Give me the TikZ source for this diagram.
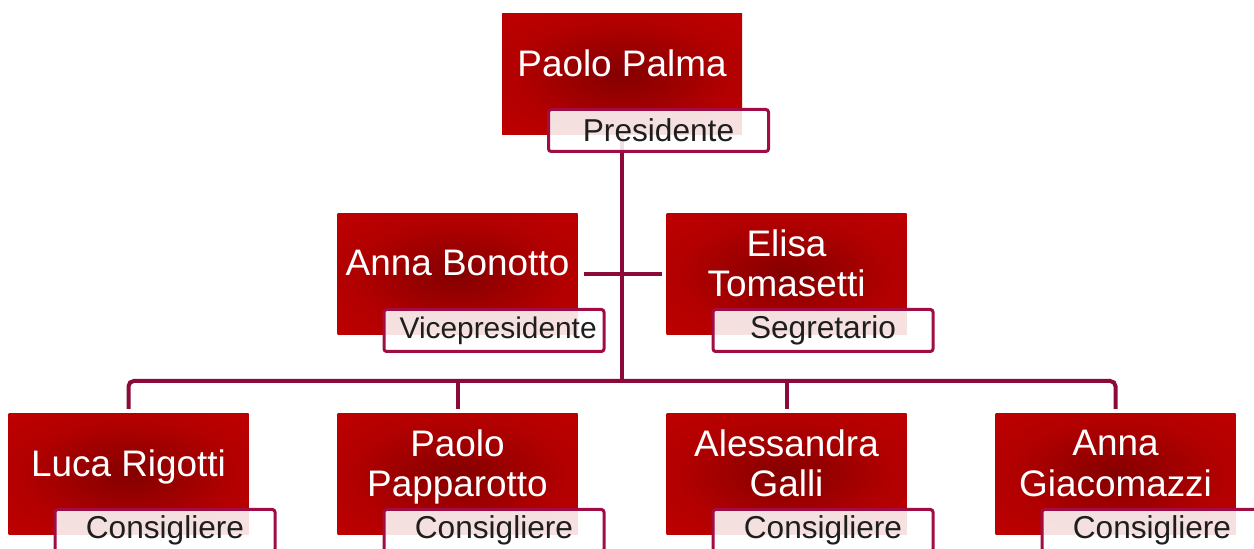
\documentclass[tikz,border=0pt]{standalone}
\usepackage{fontspec}
\setmainfont{Liberation Sans}
\usetikzlibrary{positioning, calc, backgrounds}
\definecolor{boxred}     {RGB}{204, 0, 0}
\definecolor{boxmid}     {RGB}{178, 0, 0}
\definecolor{boxdark}    {RGB}{132, 0, 0}
\definecolor{linecrimson}{RGB}{139, 10, 58}
\definecolor{rolecrimson}{RGB}{160, 12, 68}
\definecolor{roletext}   {RGB}{30, 30, 30}
\pgfdeclareradialshading{memberglow}{\pgfpoint{0bp}{0bp}}{%
  color(0bp)=(boxdark); color(22bp)=(boxmid); color(50bp)=(boxred); color(72bp)=(boxred)}
\tikzset{
  % Member box
  member/.style={
    rectangle, minimum width=4.8cm, minimum height=2.42cm,
    inner sep=0pt, outer sep=0pt, shading=memberglow,
    text=white, align=center, text depth=0.45cm,
    font=\fontsize{21pt}{23pt}\selectfont
  },
  % Role tag
  role/.style={
    rectangle, rounded corners=1.5pt,
    minimum width=4.4cm, minimum height=0.84cm, inner sep=0pt,
    draw=rolecrimson, line width=0.06cm,
    fill=white, fill opacity=0.88, text opacity=1, text=roletext,
    font=\fontsize{18pt}{21pt}\selectfont
  },
  % Connector style
  conn/.style={line width=0.08cm, color=linecrimson},
}
\begin{document}
\begin{tikzpicture}[node distance=1.58cm and 1.78cm]
  \useasboundingbox (0,0) rectangle (25.08,-10.98);
  \clip (0,0) rectangle (25.08,-10.98);
  \node[member] (c1) at (2.57,-9.49) {Luca Rigotti};
  \node[member, right=of c1] (c2) {Paolo\\Papparotto};
  \node[member, right=of c2] (c3) {Alessandra\\Galli};
  \node[member, right=of c3] (c4) {Anna\\Giacomazzi};
  \node[member, above=of c2] (vice) {Anna Bonotto};
  \node[member, above=of c3] (segr) {Elisa\\Tomasetti};
  \coordinate (mid) at ($(vice.north)!0.5!(segr.north)$);
  \node[member, above=of mid] (pres) {Paolo Palma};
  \node[role] (presr) at ([xshift=0.73cm, yshift=0.09cm]pres.south) {Presidente};
  \node[role] (vicer) at ([xshift=0.73cm, yshift=0.09cm]vice.south) {\fontsize{17pt}{20pt}\selectfont\ Vicepresidente};
  \node[role] (segrr) at ([xshift=0.73cm, yshift=0.09cm]segr.south) {Segretario};
  \node[role] (c1r) at ([xshift=0.73cm, yshift=0.09cm]c1.south) {Consigliere};
  \node[role] (c2r) at ([xshift=0.73cm, yshift=0.09cm]c2.south) {Consigliere};
  \node[role] (c3r) at ([xshift=0.73cm, yshift=0.09cm]c3.south) {Consigliere};
  \node[role] (c4r) at ([xshift=0.73cm, yshift=0.09cm]c4.south) {Consigliere};
  \coordinate (bus) at ([yshift=0.66cm]c2.north -| pres.south);
  \begin{scope}[on background layer]
    \draw[conn] (pres.south) -- (bus);
    \draw[conn, shorten <=0.12cm, shorten >=0.1cm] (vice.east) -- (segr.west);
    \draw[conn, rounded corners=3pt] ([yshift=0.1cm]c1.north) |- (bus) -| ([yshift=0.1cm]c4.north);
    \draw[conn] ([yshift=0.1cm]c2.north) -- (c2.north |- bus);
    \draw[conn] ([yshift=0.1cm]c3.north) -- (c3.north |- bus);
  \end{scope}
\end{tikzpicture}
\end{document}
